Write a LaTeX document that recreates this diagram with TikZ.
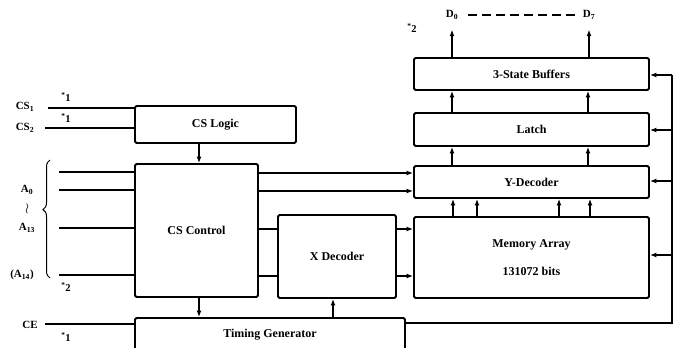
\documentclass[tikz,border=0pt]{standalone}
\usepackage{fontspec}
\setmainfont{Liberation Serif}
\usetikzlibrary{arrows.meta,calc,positioning,decorations.pathreplacing}
\tikzset{
  block/.style={draw=black,line width=1.8pt,rounded corners=1.5pt,inner sep=0pt,
    font=\bfseries\fontsize{12}{14}\selectfont,align=center},
  wire/.style={line width=1.3pt},
  flow/.style={-{Latex[length=6.5pt,width=5pt]},line width=1.3pt},
  pinlabel/.style={font=\bfseries\fontsize{11}{13}\selectfont,inner sep=1pt},
  note/.style={font=\bfseries\fontsize{10.5}{12}\selectfont,inner sep=0pt}
}

\begin{document}
\begin{tikzpicture}[x=1pt,y=-1pt]
  \useasboundingbox (0,0) rectangle (673,348);

  % blocks
  \node[block,minimum width=161,minimum height=37] (cslogic) at (215.5,124.5) {CS Logic};
  \node[block,minimum width=123,minimum height=133] (csctrl) at (196.5,230.5) {CS Control};
  \node[block,minimum width=270,minimum height=34] (timing) at (270,335) {Timing Generator};
  \node[block,minimum width=118,minimum height=83] (xdec) at (337,256.5) {X Decoder};
  \node[block,minimum width=235,minimum height=81] (memarr) at (531.5,257.5)
    {Memory Array\\[14pt]131072 bits};
  \node[block,minimum width=235,minimum height=32] (ydec) at (531.5,182) {Y-Decoder};
  \node[block,minimum width=235,minimum height=33] (latch) at (531.5,129.5) {Latch};
  \node[block,minimum width=235,minimum height=32] (bufs) at (531.5,74) {3-State Buffers};

  % pin labels and notes
  \node[pinlabel] (cs1) at (25,107) {CS\textsubscript{1}};
  \node[pinlabel] (cs2) at (25,128) {CS\textsubscript{2}};
  \node[pinlabel] (a0) at (27,190) {A\textsubscript{0}};
  \node[pinlabel] (adots) at (27,209) {\Large$\wr$};
  \node[pinlabel] (a13) at (27,228) {A\textsubscript{13}};
  \node[pinlabel] (a14) at (22,275) {(A\textsubscript{14})};
  \node[pinlabel] (ce) at (30,325) {CE};
  \node[pinlabel] (d0) at (452,15) {D\textsubscript{0}};
  \node[pinlabel] (d7) at (589,15) {D\textsubscript{7}};
  \node[note] (n1) at (66,97) {\textsuperscript{*}1};
  \node[note] (n2) at (66,118) {\textsuperscript{*}1};
  \node[note] (n3) at (66,287) {\textsuperscript{*}2};
  \node[note] (n4) at (66,337) {\textsuperscript{*}1};
  \node[note] (n5) at (412,28) {\textsuperscript{*}2};

  % columns and rows used by the wires
  \coordinate (colctl) at (199,0);
  \coordinate (coltim) at (333,0);
  \coordinate (rowy1) at (0,173);
  \coordinate (rowy2) at (0,191);
  \coordinate (rowx1) at (0,229);
  \coordinate (rowx2) at (0,276);
  \coordinate (cs1in) at (48,108);
  \coordinate (cs2in) at (45,128);
  \coordinate (cein) at (45,324);
  \coordinate (busbot) at (672,323);
  \coordinate (busbuf) at (672,75);
  \coordinate (buslat) at (672,130);
  \coordinate (busydec) at (672,181);
  \coordinate (busmem) at (672,255);

  % inputs
  \draw[wire] (cs1in) -- (cs1in -| cslogic.west);
  \draw[wire] (cs2in) -- (cs2in -| cslogic.west);
  \foreach \y [count=\i] in {172,190,228,275} {
    \coordinate (ain\i) at (59,\y);
    \draw[wire] (ain\i) -- (ain\i -| csctrl.west);
  }
  \draw[wire] (cein) -- (cein -| timing.west);
  \draw[line width=1pt,decorate,decoration={brace,amplitude=7pt,aspect=0.58}]
    (50,278) -- (50,160);

  % control path
  \draw[flow] (cslogic.south -| colctl) -- (csctrl.north -| colctl);
  \draw[flow] (csctrl.south -| colctl) -- (timing.north -| colctl);
  \draw[flow] (timing.north -| coltim) -- (xdec.south -| coltim);
  \draw[flow] (csctrl.east |- rowy1) -- (ydec.west |- rowy1);
  \draw[flow] (csctrl.east |- rowy2) -- (ydec.west |- rowy2);
  \draw[wire] (csctrl.east |- rowx1) -- (xdec.west |- rowx1);
  \draw[wire] (csctrl.east |- rowx2) -- (xdec.west |- rowx2);
  \draw[flow] (xdec.east |- rowx1) -- (memarr.west |- rowx1);
  \draw[flow] (xdec.east |- rowx2) -- (memarr.west |- rowx2);

  % data path
  \foreach \x in {453,477,559,590}
    \draw[flow] (memarr.north -| \x,0) -- (ydec.south -| \x,0);
  \foreach \x in {452,588} {
    \draw[flow] (ydec.north -| \x,0) -- (latch.south -| \x,0);
    \draw[flow] (latch.north -| \x,0) -- (bufs.south -| \x,0);
  }
  \draw[flow,shorten >=9pt] (bufs.north -| d0) -- (d0.south);
  \draw[flow,shorten >=9pt] (bufs.north -| d7) -- (d7.south);
  \draw[wire,dash pattern=on 9pt off 5pt,shorten <=9pt,shorten >=4pt] (d0.east) -- (d7.west);

  % right-hand bus from the timing generator
  \draw[wire] (timing.east |- busbot) -- (busbot) -- (busbuf);
  \draw[flow] (busbuf) -- (bufs.east |- busbuf);
  \draw[flow] (buslat) -- (latch.east |- buslat);
  \draw[flow] (busydec) -- (ydec.east |- busydec);
  \draw[flow] (busmem) -- (memarr.east |- busmem);
\end{tikzpicture}
\end{document}
